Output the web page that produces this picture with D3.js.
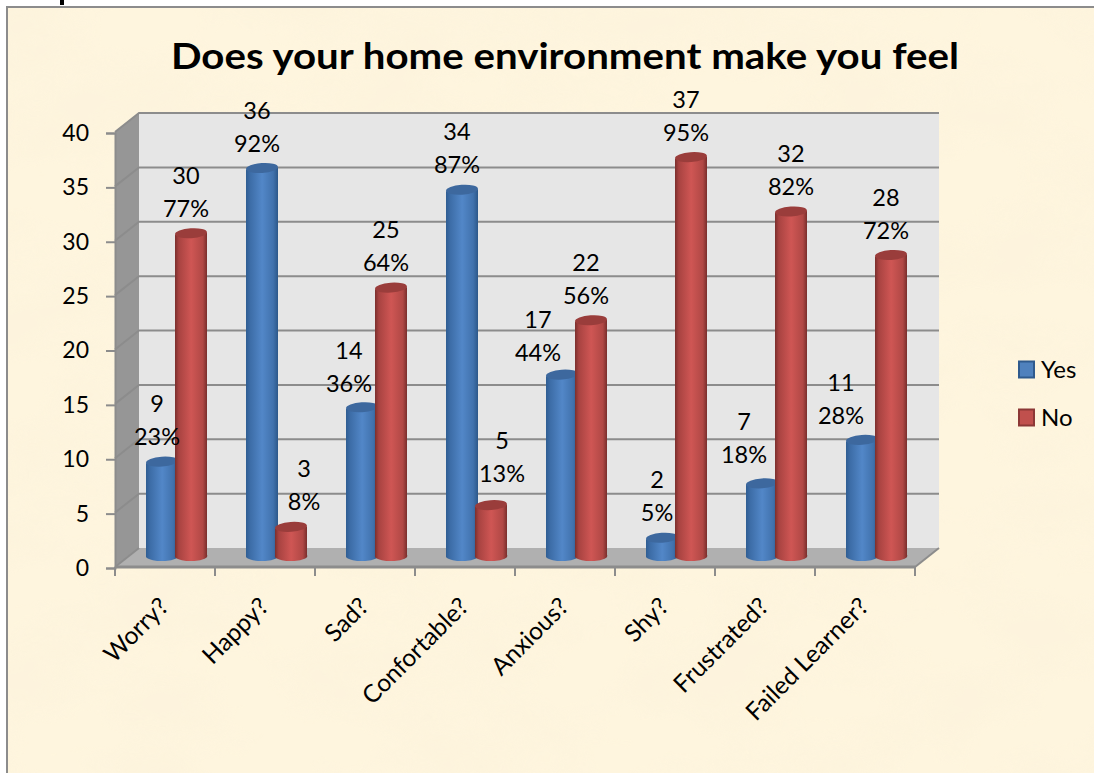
<!DOCTYPE html>
<html><head><meta charset="utf-8">
<script src="https://cdn.jsdelivr.net/npm/d3@7"></script>
<style>html,body{margin:0;padding:0;background:#fff;overflow:hidden}text{font-family:Lato,"Open Sans",sans-serif;fill:#000}</style>
</head><body><svg id="c" width="1094" height="773"></svg>
<script>
const categories=["Worry?","Happy?","Sad?","Confortable?","Anxious?","Shy?","Frustrated?","Failed Learner?"];
const yesValues=[9,36,14,34,17,2,7,11];
const noValues=[30,3,25,5,22,37,32,28];
const yesPercents=["23%","92%","36%","87%","44%","5%","18%","28%"];
const noPercents=["77%","8%","64%","13%","56%","95%","82%","72%"];
const yTicks=[0,5,10,15,20,25,30,35,40];
const titleText="Does your home environment make you feel";
// hand-placed data-label offsets from the default spot above each bar
const yesLabelShift=[[0,0],[0,0],[-8,1],[0,0],[-19,3],[0,0],[-13,-4],[-16,1]];
const noLabelShift=[[0,0],[18,0],[0,0],[16,-7],[0,0],[0,0],[5,0],[0,0]];

const svg=d3.select("#c");
const defs=svg.append("defs");
const f=defs.append("filter").attr("id","paper").attr("x",0).attr("y",0).attr("width","100%").attr("height","100%");
f.append("feTurbulence").attr("type","fractalNoise").attr("baseFrequency","0.009 0.014").attr("numOctaves",4).attr("seed",11);
f.append("feColorMatrix").attr("type","matrix").attr("values","0 0 0 0 0.98  0 0 0 0 0.90  0 0 0 0 0.72  2.6 0 0 0 -0.95");
function cyl(id,stops){const g=defs.append("linearGradient").attr("id",id);stops.forEach(s=>g.append("stop").attr("offset",s[0]).attr("stop-color",s[1]));}
cyl("blueG",[[0,"#2f5d92"],[.12,"#3c6ca6"],[.5,"#5287c8"],[.84,"#4172ad"],[1,"#2b5687"]]);
cyl("redG",[[0,"#7b2f2d"],[.12,"#a84341"],[.5,"#cf5654"],[.86,"#b04845"],[1,"#752c2a"]]);
const colors={blue:{g:"url(#blueG)",top:"#3d689e",edge:"#2f5a8d",sw:"#4f81bd"},red:{g:"url(#redG)",top:"#9a3d3b",edge:"#8c3836",sw:"#c0504d"}};

// paper background
svg.append("rect").attr("x",7).attr("y",7).attr("width",1087).attr("height",766).attr("fill","#fef5de");
svg.append("rect").attr("x",7).attr("y",7).attr("width",1087).attr("height",766).attr("filter","url(#paper)").attr("opacity",.85);
svg.append("path").attr("d","M7,773V7H1094").attr("fill","none").attr("stroke","#8c8c8c").attr("stroke-width",2);
// sliver of the page text above the chart
svg.append("rect").attr("x",60).attr("y",0).attr("width",4).attr("height",5).attr("fill","#000");

const y=d3.scaleLinear().domain([0,40]).range([567,132]);
const x=d3.scaleBand().domain(categories).range([115,915]);
const dx=24,dy=-19,x0=115,x1=915;

// walls
const yT=y(40),yB=y(0);
svg.append("polygon").attr("points",[[x0+dx,yT+dy],[x1+dx,yT+dy],[x1+dx,yB+dy],[x0+dx,yB+dy]].join(" ")).attr("fill","#e6e6e6");
svg.append("polygon").attr("points",[[x0,yT],[x0+dx,yT+dy],[x0+dx,yB+dy],[x0,yB]].join(" ")).attr("fill","#969696");
svg.append("polygon").attr("points",[[x0,yB],[x0+dx,yB+dy],[x1+dx,yB+dy],[x1,yB]].join(" ")).attr("fill","#b0b0b0");
// gridlines
const gl=svg.append("g").attr("fill","none").attr("stroke","#8c8c8c").attr("stroke-width",2);
yTicks.forEach(t=>{
  gl.append("path").attr("d",`M${x0},${y(t)}L${x0+dx},${y(t)+dy}`+(t?`L${x1+dx},${y(t)+dy}`:""));
});
gl.append("path").attr("d",`M${x1},${yB}L${x1+dx},${yB+dy}`);

// axes
const ax=svg.append("g").attr("transform",`translate(${x0},1)`).call(d3.axisLeft(y).tickValues(yTicks).tickSize(9).tickPadding(17));
ax.select(".domain").attr("stroke","#8c8c8c").attr("stroke-width",2);
ax.selectAll(".tick line").attr("stroke","#8c8c8c").attr("stroke-width",2);
ax.selectAll("text").attr("font-size",23).attr("font-family",'Lato,"Open Sans",sans-serif');
const bx=svg.append("g").attr("transform",`translate(0,${yB})`).call(d3.axisBottom(x).tickSize(0).tickFormat(""));
bx.select(".domain").attr("stroke","#8c8c8c").attr("stroke-width",3).attr("d",`M${x0},0H${x1}`);
bx.selectAll(".tick line").remove();
bx.selectAll(".tick text").remove();
const edges=d3.range(categories.length+1).map(i=>x0+i*x.step());
bx.selectAll("line.t").data(edges).join("line").attr("class","t").attr("x1",d=>d).attr("x2",d=>d).attr("y1",0).attr("y2",9).attr("stroke","#8c8c8c").attr("stroke-width",2);

// cylinders
const barW=32,ry=5,lift=7;
function drawBar(g,cx,v,c){
  const b=y(0)-lift-4, t=y(v)-lift, l=cx-barW/2, r=cx+barW/2;
  g.append("path").attr("d",`M${l},${t+1}V${b+1}A${barW/2},${ry} 0 0 0 ${r},${b-1}V${t-1}Z`).attr("fill",c.g);
  g.append("ellipse").attr("cx",0).attr("cy",0).attr("rx",barW/2).attr("ry",ry).attr("fill",c.top)
    .attr("transform",`translate(${cx},${t-.5}) rotate(-4)`);
}
const bars=svg.append("g");
categories.forEach((cat,i)=>{
  const cb=x(cat)+47, cr=x(cat)+76;
  drawBar(bars,cb,yesValues[i],colors.blue);
  drawBar(bars,cr,noValues[i],colors.red);
});
// data labels
const labels=svg.append("g").attr("font-size",23.5).attr("text-anchor","middle");
function lab(cx,v,p,s){
  const t=y(v)-lift+s[1]+1;
  labels.append("text").attr("x",cx+s[0]).attr("y",t-51).text(v);
  labels.append("text").attr("x",cx+s[0]).attr("y",t-18).text(p);
}
categories.forEach((cat,i)=>{
  lab(x(cat)+42,yesValues[i],yesPercents[i],yesLabelShift[i]);
  lab(x(cat)+71,noValues[i],noPercents[i],noLabelShift[i]);
});
// category labels
svg.append("g").attr("font-size",24.5).attr("text-anchor","end").selectAll("text").data(categories).join("text")
  .attr("transform",d=>`translate(${x(d)+x.bandwidth()/2+5},${yB+41}) rotate(-45)`).text(d=>d);
// title
svg.append("text").attr("x",171).attr("y",68.5).attr("font-size",37).attr("font-weight",700)
  .attr("textLength",788).attr("lengthAdjust","spacingAndGlyphs").text(titleText);
// legend
const leg=svg.append("g");
[["Yes",colors.blue,361],["No",colors.red,409]].forEach(([n,c,yy])=>{
  leg.append("rect").attr("x",1019).attr("y",yy+.5).attr("width",15).attr("height",16).attr("fill",c.sw).attr("stroke",c.edge).attr("stroke-width",2);
  leg.append("text").attr("x",1041).attr("y",yy+17).attr("font-size",24).text(n);
});
</script></body></html>
